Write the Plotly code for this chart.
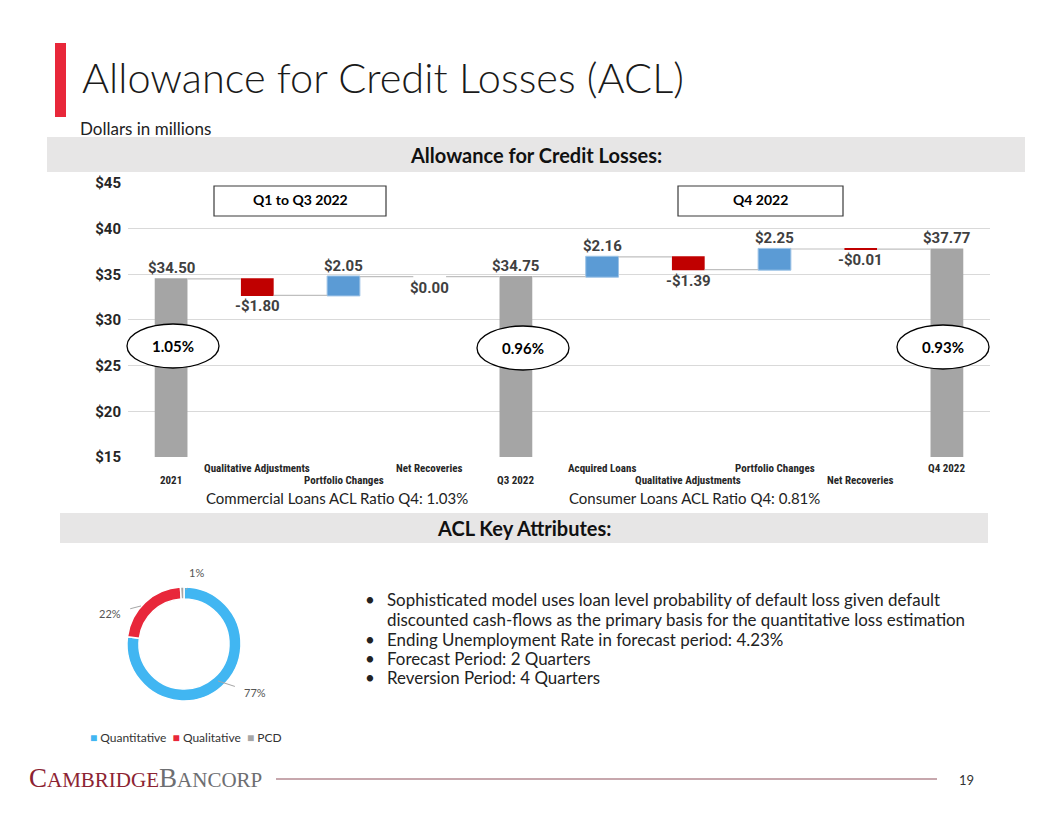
import plotly.graph_objects as go

W, H = 1056, 816

# ---------------- data ----------------
categories = ["2021", "Qualitative Adjustments", "Portfolio Changes", "Net Recoveries", "Q3 2022",
              "Acquired Loans", "Qualitative Adjustments", "Portfolio Changes", "Net Recoveries", "Q4 2022"]
values = [34.50, -1.80, 2.05, 0.00, 34.75, 2.16, -1.39, 2.25, -0.01, 37.77]
measures = ["absolute", "relative", "relative", "relative", "absolute",
            "relative", "relative", "relative", "relative", "absolute"]
value_labels = ["$34.50", "-$1.80", "$2.05", "$0.00", "$34.75", "$2.16", "-$1.39", "$2.25", "-$0.01", "$37.77"]
y_ticks = [15, 20, 25, 30, 35, 40, 45]
y_tick_labels = ["$15", "$20", "$25", "$30", "$35", "$40", "$45"]
ratio_labels = ["1.05%", "0.96%", "0.93%"]

donut_labels = ["Quantitative", "Qualitative", "PCD"]
donut_values = [77, 22, 1]
donut_text = ["77%", "22%", "1%"]

bullets = [
    "Sophisticated model uses loan level probability of default loss given default",
    "discounted cash-flows as the primary basis for the quantitative loss estimation",
    "Ending Unemployment Rate in forecast period: 4.23%",
    "Forecast Period: 2 Quarters",
    "Reversion Period: 4 Quarters",
]
bullet_marks = [True, False, True, True, True]

# ---------------- helpers ----------------
# the page is photographed with a slight vertical squeeze; compensate so marks land on target pixels
K_Y, A_Y = 0.978, 9.0

def px(x):
    return x / W

def py(y):
    yd = (y - A_Y) / K_Y
    return 1 - yd / H

BODY = "Lato, Raleway, 'Open Sans', sans-serif"
NARROW = "'Liberation Sans Narrow', 'Roboto Condensed', Roboto, sans-serif"
BOLDF = "Roboto, 'Liberation Sans', sans-serif"

x_idx = list(range(len(categories)))

fig = go.Figure()

fig.add_trace(go.Waterfall(
    x=x_idx, y=values, measure=measures,
    width=0.38,
    increasing=dict(marker=dict(color="#5B9BD5", line=dict(color="#9DC3E6", width=1))),
    decreasing=dict(marker=dict(color="#C00000", line=dict(color="#C00000", width=0))),
    totals=dict(marker=dict(color="#A5A5A5", line=dict(color="#A5A5A5", width=0))),
    connector=dict(line=dict(color="#BFBFBF", width=1.2)),
    showlegend=False, hoverinfo="skip",
    xaxis="x", yaxis="y",
))

fig.add_trace(go.Pie(
    labels=donut_labels, values=donut_values, hole=0.79,
    sort=False, direction="clockwise", rotation=0,
    marker=dict(colors=["#41B6F2", "#E8273A", "#A6A6A6"], line=dict(color="white", width=1.5)),
    textinfo="none", showlegend=False, hoverinfo="skip",
    domain=dict(x=[px(127), px(241)], y=[py(701), py(587)]),
))

annotations = []
shapes = []

def note(x, y, text, size, color="#222222", weight="normal", family=BODY, xa="center", ya="middle"):
    annotations.append(dict(x=px(x), y=py(y), xref="paper", yref="paper", xanchor=xa, yanchor=ya,
                            text=text, showarrow=False,
                            font=dict(family=family, size=size, color=color, weight=weight)))

# value labels on waterfall
cum = 0.0
for i, (v, m, lab) in enumerate(zip(values, measures, value_labels)):
    if m == "absolute":
        cum = v
        y, shift = v, 11
    else:
        end = cum + v
        shift = 11 if v > 0 else -11
        y = end
        cum = end
    annotations.append(dict(x=i, y=y, xref="x", yref="y", text=lab, showarrow=False,
                            yshift=shift, xanchor="center", yanchor="middle",
                            font=dict(family=BOLDF, size=15, color="#404040", weight="bold")))

# staggered category labels
for i, c in enumerate(categories):
    yy = py(481) if i % 2 == 0 else py(469)
    annotations.append(dict(x=i, y=yy, xref="x", yref="paper", text=c, showarrow=False,
                            xanchor="center", yanchor="middle",
                            font=dict(family=NARROW, size=11, color="#262626", weight="bold")))

# ratio ellipses
ell_centers = [(173, 346), (523, 348), (943, 347)]
for (cx, cy), lab in zip(ell_centers, ratio_labels):
    shapes.append(dict(type="circle", xref="paper", yref="paper",
                       x0=px(cx - 46), x1=px(cx + 46), y0=py(cy + 22), y1=py(cy - 22),
                       fillcolor="white", line=dict(color="black", width=1.3), layer="above"))
    note(cx, cy, lab, 15, color="black", weight="bold")

# period boxes
for (x0, x1, lab) in [(214, 386, "Q1 to Q3 2022"), (678, 843, "Q4 2022")]:
    shapes.append(dict(type="rect", xref="paper", yref="paper", x0=px(x0), x1=px(x1),
                       y0=py(216), y1=py(186), fillcolor="white",
                       line=dict(color="#3A3A3A", width=1.2), layer="above"))
    note((x0 + x1) / 2, 200, lab, 14, color="black", weight="bold")

# slide header pieces
shapes.append(dict(type="rect", xref="paper", yref="paper", x0=px(55), x1=px(66), y0=py(117), y1=py(43),
                   fillcolor="#E8273A", line=dict(width=0), layer="below"))
shapes.append(dict(type="rect", xref="paper", yref="paper", x0=px(47), x1=px(1025), y0=py(172), y1=py(137),
                   fillcolor="#E7E6E6", line=dict(width=0), layer="below"))
shapes.append(dict(type="rect", xref="paper", yref="paper", x0=px(60), x1=px(988), y0=py(543), y1=py(513),
                   fillcolor="#E7E6E6", line=dict(width=0), layer="below"))
# footer line
shapes.append(dict(type="line", xref="paper", yref="paper", x0=px(276), x1=px(937), y0=py(779), y1=py(779),
                   line=dict(color="#B48A92", width=1.6)))

note(80, 77, "Allowance for Credit Losses (ACL)", 41.5, color="#1A1A1A", weight=300, xa="left")
note(78, 129, "Dollars in millions", 17, xa="left")
note(536, 155, "Allowance for Credit Losses:", 20, color="#111111", weight="bold")
note(524, 528, "ACL Key Attributes:", 20, color="#111111", weight="bold")
note(337, 498, "Commercial Loans ACL Ratio Q4: 1.03%", 15)
note(694, 498, "Consumer Loans ACL Ratio Q4: 0.81%", 15)
note(966, 780, "19", 13, color="#333333")
note(27, 778, ("<span style='color:#8C2332;font-size:27px'>C</span>"
               "<span style='color:#8C2332;font-size:21px'>AMBRIDGE</span>"
               "<span style='color:#6D6E71;font-size:27px'>B</span>"
               "<span style='color:#6D6E71;font-size:21px'>ANCORP</span>"),
     21, family="'Liberation Serif', 'DejaVu Serif', serif", xa="left")
note(88, 738, ("<span style='color:#41B6F2'>■</span> Quantitative  "
               "<span style='color:#E8273A'>■</span> Qualitative  "
               "<span style='color:#A6A6A6'>■</span> PCD"), 12, color="#333333", xa="left")

# donut leader labels
for (tx, ty, hx, hy, lab) in [(196, 573, 186, 590, "1%"), (110, 614, 141, 606, "22%"),
                              (255, 693, 218, 681, "77%")]:
    annotations.append(dict(x=px(hx), y=py(hy), xref="paper", yref="paper", text=lab,
                            showarrow=True, arrowhead=0, arrowwidth=1, arrowcolor="#A6A6A6",
                            ax=tx - hx, ay=ty - hy, standoff=0, startstandoff=8,
                            font=dict(family=BODY, size=11, color="#555555")))

# bullets
bullet_y = [600, 620, 640, 659, 678]
for txt, mark, yy in zip(bullets, bullet_marks, bullet_y):
    if mark:
        note(370, yy, "•", 17)
    note(385, yy, txt, 16.9, xa="left")

fig.update_layout(
    width=W, height=H, autosize=False, margin=dict(l=0, r=0, t=0, b=0, pad=0),
    paper_bgcolor="white", plot_bgcolor="white",
    xaxis=dict(domain=[px(128), px(990)], range=[-0.5, 9.5], showticklabels=False,
               showgrid=False, zeroline=False, showline=False, fixedrange=True),
    yaxis=dict(domain=[py(457), py(183)], range=[15, 45], tickvals=y_ticks, ticktext=y_tick_labels,
               showgrid=True, gridcolor="#D9D9D9", gridwidth=1, zeroline=False, showline=False,
               ticks="", ticklabelstandoff=6,
               tickfont=dict(family=BOLDF, size=15, color="#262626", weight="bold")),
    shapes=shapes, annotations=annotations,
)

fig.write_html("out.html", config={"responsive": False},
               default_width="1056px", default_height="816px")
